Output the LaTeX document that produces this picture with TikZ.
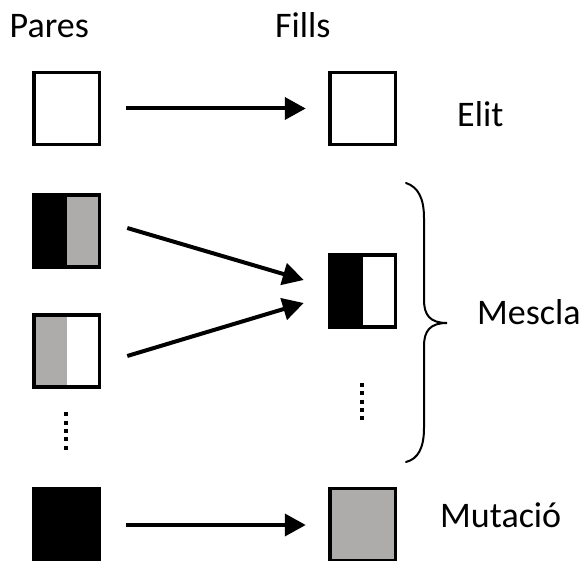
\documentclass[tikz,border=0pt]{standalone}
\usepackage{fontspec}
\setmainfont{Carlito}
\usetikzlibrary{arrows.meta,calc}
\definecolor{genegray}{RGB}{174,171,171}
\tikzset{
  chrom/.style={draw=black, line width=3.5pt, inner sep=0pt, outer sep=0pt,
                minimum width=65.5pt, minimum height=72pt, fill=white},
  lefthalf/.style={path picture={\fill[#1]
      (path picture bounding box.south west) rectangle (path picture bounding box.north);}},
  label/.style={anchor=base west, inner sep=0pt, font=\fontsize{36}{43}\selectfont},
  link/.style={line width=4pt, -{Triangle[length=21pt,width=22pt]}},
  dotcol/.style={line width=4pt, dash pattern=on 4pt off 4.35pt},
  brace/.style={line width=2pt, line cap=round}
}
\begin{document}
\begin{tikzpicture}[x=1pt, y=-1pt]
\useasboundingbox (0,0) rectangle (587,561);

% column headings and operator names
\node[label] (pares) at (9.5,38) {Pares};
\node[label] (fills) at (275,38) {Fills};
\node[label] (elit) at (457,127) {Elit};
\node[label] (mescla) at (477,325) {Mescla};
\node[label] (mutacio) at (440,528) {Mutació};

% elitism: copied unchanged
\node[chrom] (p1) at (66.5,108.5) {};
\node[chrom] (c1) at (362.5,108.5) {};

% crossover: two parents, one child
\node[chrom, fill=genegray, lefthalf=black] (p2) at (66.5,231) {};
\node[chrom, lefthalf=genegray] (p3) at (66.5,351) {};
\node[chrom, lefthalf=black] (c2) at (362.5,291) {};

% mutation
\node[chrom, fill=black] (p4) at (66.5,524.5) {};
\node[chrom, fill=genegray] (c4) at (362.5,524.5) {};

% arrows
\draw[link] ($(p1.east)+(27,0)$) -- ($(c1.west)+(-24,0)$);
\draw[link] ($(p2.east)+(28,-3)$) -- ($(c2.west)+(-26,-11)$);
\draw[link] ($(p3.east)+(28,5)$) -- ($(c2.west)+(-26,12)$);
\draw[link] ($(p4.east)+(27,0.5)$) -- ($(c4.west)+(-24,0.5)$);

% ellipses for further individuals
\draw[dotcol] ($(p3.south)+(-0.5,25.3)$) -- ++(0,37.4);
\draw[dotcol] ($(c2.south)+(-0.5,56)$) -- ++(0,36.7);

% brace grouping the crossover rows
\draw[brace] (406,183) .. controls (418,187) and (424,198) .. (424,218)
  -- (424,300) .. controls (424,315) and (430,323) .. (447,323)
  .. controls (430,323) and (424,331) .. (424,346)
  -- (424,428) .. controls (424,448) and (418,459) .. (406,462);
\end{tikzpicture}
\end{document}
